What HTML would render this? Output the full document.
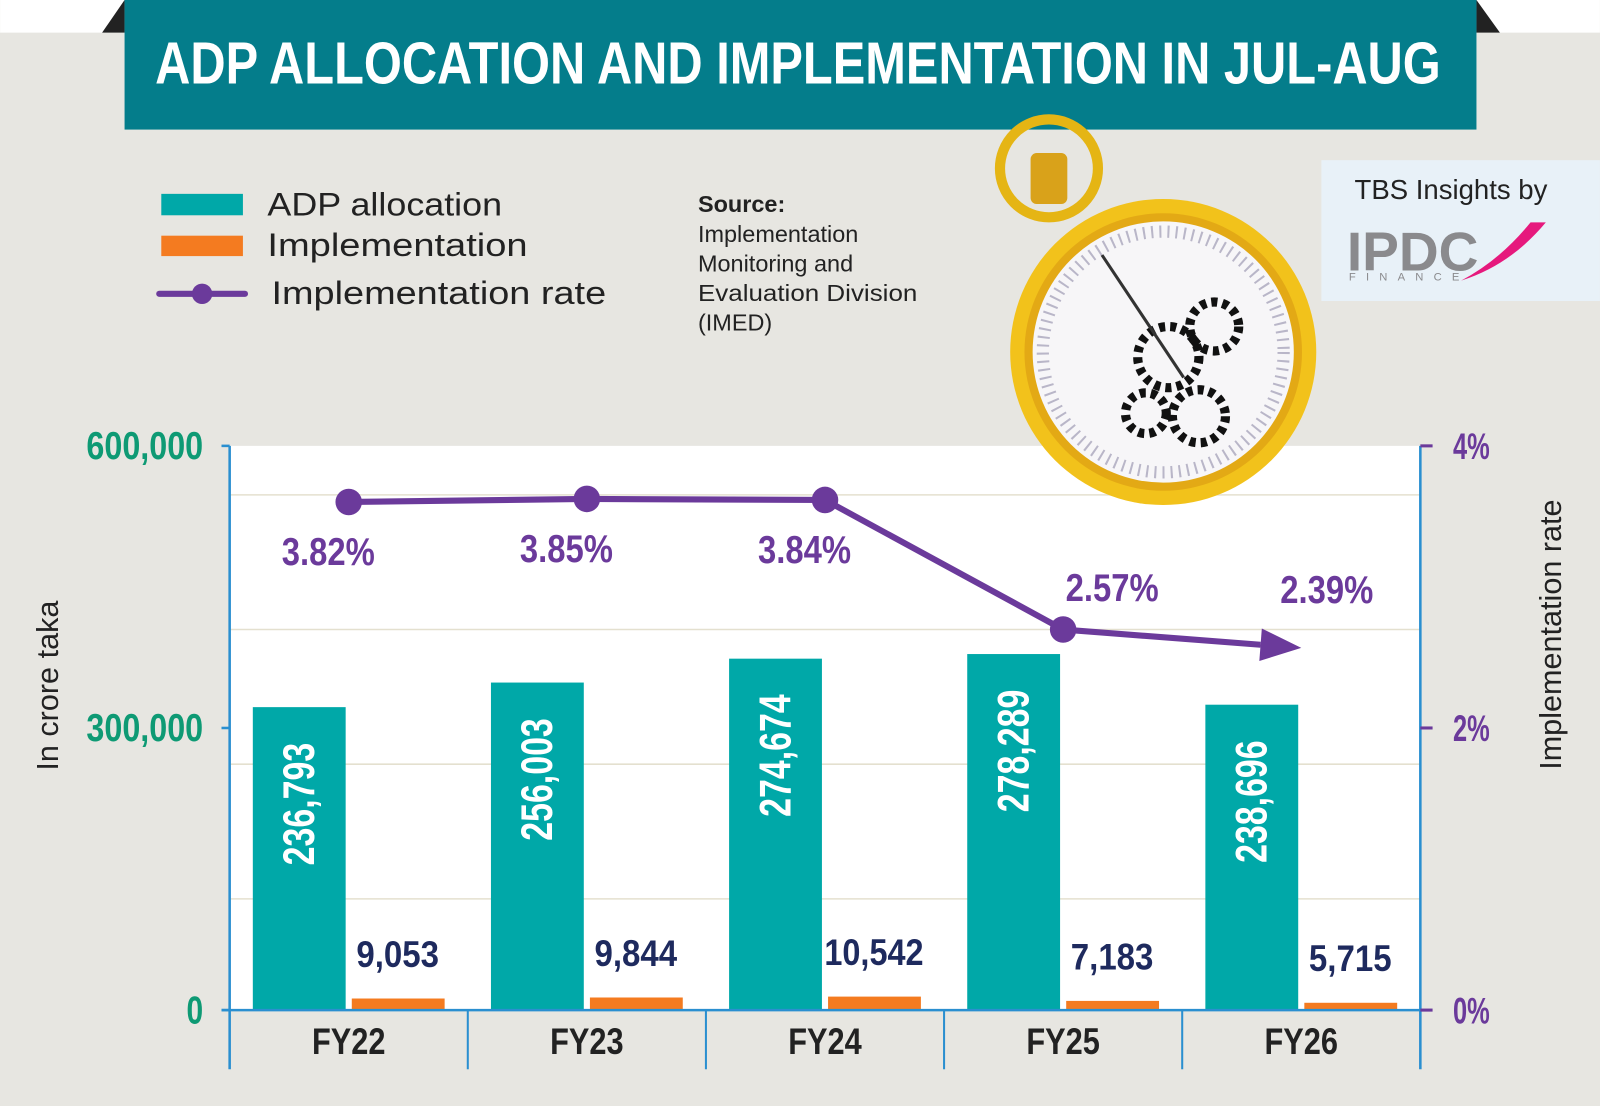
<!DOCTYPE html>
<html><head><meta charset="utf-8"><style>
html,body{margin:0;padding:0;background:#e7e6e1;}
svg{display:block;}
.cond{font-family:"Liberation Sans Narrow","Liberation Sans",sans-serif;font-weight:bold;}
.sans{font-family:"Liberation Sans","DejaVu Sans",sans-serif;}
</style></head><body>
<svg id="chart" width="1600" height="1106" viewBox="0 0 1568 1084" xmlns="http://www.w3.org/2000/svg">
<rect x="0" y="0" width="1568" height="1084" fill="#e7e6e1"/>
<rect x="0" y="0" width="1568" height="32" fill="#ffffff"/>
<polygon points="100,32 122,0 122,32" fill="#222"/>
<polygon points="1447,0 1470,32 1447,32" fill="#222"/>
<rect x="122" y="0" width="1325" height="127" fill="#047d8b"/>
<text x="782" y="82" text-anchor="middle" class="cond" font-size="58" fill="#fff" textLength="1260" lengthAdjust="spacingAndGlyphs">ADP ALLOCATION AND IMPLEMENTATION IN JUL-AUG</text>

<g>
<rect x="158" y="190" width="80" height="21" fill="#00a8a8"/>
<text x="262" y="211" class="sans" font-size="32" fill="#222" textLength="230" lengthAdjust="spacingAndGlyphs">ADP allocation</text>
<rect x="158" y="231" width="80" height="20" fill="#f47b20"/>
<text x="262" y="251" class="sans" font-size="32" fill="#222" textLength="255" lengthAdjust="spacingAndGlyphs">Implementation</text>
<line x1="156" y1="288" x2="240" y2="288" stroke="#6b3a9b" stroke-width="6" stroke-linecap="round"/>
<circle cx="198" cy="288" r="10" fill="#6b3a9b"/>
<text x="266" y="298" class="sans" font-size="32" fill="#222" textLength="328" lengthAdjust="spacingAndGlyphs">Implementation rate</text>
</g>
<g class="sans" font-size="23" fill="#222">
<text x="684" y="208" font-weight="bold">Source:</text>
<text x="684" y="237">Implementation</text>
<text x="684" y="266">Monitoring and</text>
<text x="684" y="295" textLength="215" lengthAdjust="spacingAndGlyphs">Evaluation Division</text>
<text x="684" y="324">(IMED)</text>
</g>

<g>
<rect x="1295" y="157" width="273" height="138" fill="#e8f1f8"/>
<text x="1422" y="195" text-anchor="middle" class="sans" font-size="27" fill="#222">TBS Insights by</text>
<text x="1320" y="265" class="sans" font-weight="bold" font-size="54" fill="#8a8a8d">IPDC</text>
<text x="1322" y="275" class="sans" font-size="11" fill="#8a8a8d" letter-spacing="10">FINANCE</text>
<path d="M1432 275 Q1480 260 1515 218 L1500 218 Q1470 255 1432 275 Z" fill="#e6197d"/>
</g>

<g id="plot"></g>

<g>
<circle cx="1028" cy="165" r="48" fill="none" stroke="#e5b514" stroke-width="10"/>
<rect x="1010" y="150" width="36" height="50" rx="6" fill="#d9a21a"/>
<circle cx="1140" cy="345" r="150" fill="#f2c21b"/>
<circle cx="1140" cy="345" r="136" fill="#e3a915"/>
<circle cx="1140" cy="345" r="128" fill="#f7f6f8"/>
<circle cx="1140" cy="345" r="118" fill="none" stroke="#b9b6c8" stroke-width="12" stroke-dasharray="2 6"/>
<g fill="none" stroke="#111" stroke-width="9" stroke-dasharray="6 5">
<circle cx="1145" cy="350" r="30"/><circle cx="1190" cy="320" r="24"/><circle cx="1123" cy="405" r="20"/><circle cx="1175" cy="408" r="26"/>
</g>
<line x1="1080" y1="250" x2="1160" y2="370" stroke="#333" stroke-width="3"/>
</g>
</svg>
<script>
const categories = ["FY22","FY23","FY24","FY25","FY26"];
const allocation = [236793, 256003, 274674, 278289, 238696];
const implementation = [9053, 9844, 10542, 7183, 5715];
const rate = [3.82, 3.85, 3.84, 2.57, 2.39];
const leftTicks = [0, 300000, 600000];
const leftTickLabels = ["0","300,000","600,000"];
const rightTicks = [0, 2, 4];
const rightTickLabels = ["0%","2%","4%"];

const NS="http://www.w3.org/2000/svg";
const plot=document.getElementById('plot');
const L=225,R=1392,T=437,B=990;
const bandW=(R-L)/categories.length;
function mk(tag,attrs,parent){const e=document.createElementNS(NS,tag);for(const k in attrs)e.setAttribute(k,attrs[k]);(parent||plot).appendChild(e);return e;}
function narrow(t,fs,ratio){t.setAttribute('textLength',(t.textContent.length*fs*ratio).toFixed(1));t.setAttribute('lengthAdjust','spacingAndGlyphs');}
function axisY(v){return B-(v/600000)*(B-T);}
function barY(v){return B-(v/441000)*(B-T);}
function rateAxisY(v){return B-(v/4)*(B-T);}
function rateY(v){return B-((v+1.16)/5.53)*(B-T);}
function xc(i){return L+bandW*(i+0.5);}

let bg=mk('rect',{x:L,y:T,width:R-L,height:B-T,fill:'#ffffff'});


[485,617,749,881].forEach(y=>{let g=mk('line',{x1:L,x2:R,y1:y,y2:y,stroke:'#e4e0cf','stroke-width':1.5});

});

categories.forEach((c,i)=>{
  const cx=xc(i);
  const b=mk('rect',{x:cx-94,y:barY(allocation[i]),width:91,height:B-barY(allocation[i]),fill:'#00a8a8'});
  
  
  const o=mk('rect',{x:cx+3,y:barY(implementation[i]),width:91,height:B-barY(implementation[i]),fill:'#f47b20'});
  
  
  const ty=barY(allocation[i])+95;
  const t=mk('text',{x:0,y:0,transform:`translate(${cx-34},${ty}) rotate(-90)`,'text-anchor':'middle',class:'cond','font-size':44,fill:'#fff'});
  t.textContent=allocation[i].toLocaleString('en-US');
  narrow(t,44,0.39);
  
  
  const v=mk('text',{x:cx+48,y:barY(implementation[i])-31,'text-anchor':'middle',class:'cond','font-size':36,fill:'#1e2a5e'});
  v.textContent=implementation[i].toLocaleString('en-US');
  narrow(v,36,0.45);
  
  
  const xl=mk('text',{x:cx,y:1033,'text-anchor':'middle',class:'cond','font-size':36,fill:'#222'});
  xl.textContent=c;
  narrow(xl,36,0.5);
  
  
  if(i>0){let s=mk('line',{x1:L+bandW*i,x2:L+bandW*i,y1:B,y2:1048,stroke:'#2a8fd0','stroke-width':2});
  
  }
});

let la=mk('line',{x1:L,x2:L,y1:T,y2:1048,stroke:'#2a8fd0','stroke-width':2.5});


let ra=mk('line',{x1:R,x2:R,y1:T,y2:1048,stroke:'#2a8fd0','stroke-width':2.5});


let xa=mk('line',{x1:L-8,x2:R,y1:B,y2:B,stroke:'#2a8fd0','stroke-width':2.5});


leftTicks.forEach((v,i)=>{
  mk('line',{x1:L-8,x2:L,y1:axisY(v),y2:axisY(v),stroke:'#2a8fd0','stroke-width':2.5});
  const t=mk('text',{x:L-26,y:axisY(v)+13,'text-anchor':'end',class:'cond','font-size':38,fill:'#0e9a74'});
  t.textContent=leftTickLabels[i];
  narrow(t,38,0.43);
  
  
});
rightTicks.forEach((v,i)=>{
  mk('line',{x1:R,x2:R+12,y1:rateAxisY(v),y2:rateAxisY(v),stroke:'#6b3a9b','stroke-width':3});
  const t=mk('text',{x:R+32,y:rateAxisY(v)+13,class:'cond','font-size':36,fill:'#6b3a9b'});
  t.textContent=rightTickLabels[i];
  narrow(t,36,0.5);
  
  
});
let yt=mk('text',{transform:'translate(57,672) rotate(-90)','text-anchor':'middle',class:'sans','font-size':30,fill:'#222'});
yt.textContent='In crore taka';


let y2t=mk('text',{transform:'translate(1530,622) rotate(-90)','text-anchor':'middle',class:'sans','font-size':30,fill:'#222'});
y2t.textContent='Implementation rate';



const n=rate.length;
const pts=rate.map((v,i)=>[xc(i),rateY(v)]);
const lastStart=pts[n-2], lastEnd=pts[n-1];
const dx=lastEnd[0]-lastStart[0], dy=lastEnd[1]-lastStart[1], len=Math.hypot(dx,dy);
const ux=dx/len, uy=dy/len;
const tip=[lastEnd[0],lastEnd[1]];
const base=[tip[0]-ux*40,tip[1]-uy*40];
let d='M'+pts.slice(0,n-1).map(p=>p.join(',')).join(' L')+' L'+base.join(',');
let line=mk('path',{d:d,fill:'none',stroke:'#6b3a9b','stroke-width':6,'stroke-linejoin':'round'});


let arrow=mk('polygon',{points:`${tip[0]},${tip[1]} ${base[0]-uy*16},${base[1]+ux*16} ${base[0]+uy*16},${base[1]-ux*16}`,fill:'#6b3a9b'});


rate.forEach((v,i)=>{
  const [x,y]=pts[i];
  if(i<n-1){let c=mk('circle',{cx:x,cy:y,r:13,fill:'#6b3a9b'});
  
  }
  let lx,ly;
  if(i<3){lx=x-20;ly=y+62;}else if(i===n-1){lx=x+25;ly=y-44;}else{lx=x+48;ly=y-28;}
  const t=mk('text',{x:lx,y:ly,'text-anchor':'middle',class:'cond','font-size':38,fill:'#6b3a9b'});
  t.textContent=v.toFixed(2)+'%';
  narrow(t,38,0.48);
  
  
});
</script>
</body></html>
